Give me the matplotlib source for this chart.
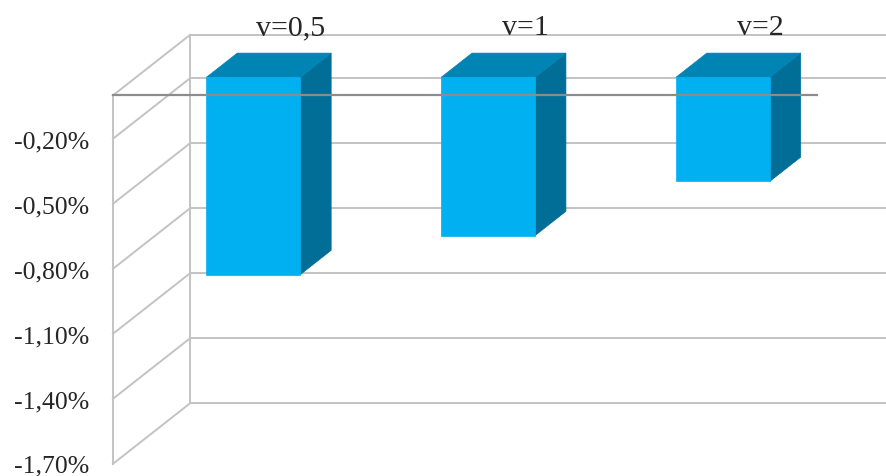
import matplotlib.pyplot as plt
from matplotlib.patches import Polygon

categories = ['v=0,5', 'v=1', 'v=2']
values = [-0.91, -0.73, -0.48]          # in %
tick_values = [-0.2, -0.5, -0.8, -1.1, -1.4, -1.7]
tick_labels = ['-0,20%', '-0,50%', '-0,80%', '-1,10%', '-1,40%', '-1,70%']
y_max, y_min = 0.0, -1.7

# fake 3D: depth d goes from 0 (back wall) to 1 (front plane)
DX, DY = -0.328, -0.2790
def proj(x, y, d):
    return x + DX * d, y + DY * d

fig = plt.figure(figsize=(8.86, 4.77), dpi=100)
ax = fig.add_axes([0, 0, 1, 1])
ax.set_xlim(-1.309, 2.465)
ax.set_ylim(-2.035, 0.166)
ax.axis('off')

grid_c = '#C3C3C3'
lw = 1.4
x0, x1 = -0.5, len(categories) - 0.5

# back wall gridlines + side wall diagonals
for v in [y_max] + tick_values:
    ax.plot([x0, x1 + 0.2], [v, v], color=grid_c, lw=lw, zorder=1)
    bx, by = proj(x0, v, 0)
    fx, fy = proj(x0, v, 1)
    ax.plot([bx, fx], [by, fy], color=grid_c, lw=lw, zorder=1)
ax.plot([x0, x0], [y_max, y_min], color=grid_c, lw=lw, zorder=1)
fx, fy0 = proj(x0, y_max, 1)
_, fy1 = proj(x0, y_min, 1)
ax.plot([fx, fx], [fy0, fy1], color=grid_c, lw=lw, zorder=1)

# bars
front_c, top_c, side_c = '#00B0F0', '#0084B4', '#006E96'
half_w, d_back, d_front = 0.2, 0.3, 0.7
for i, v in enumerate(values):
    l, r = i - half_w, i + half_w
    front = [proj(l, 0, d_front), proj(r, 0, d_front), proj(r, v, d_front), proj(l, v, d_front)]
    top = [proj(l, 0, d_front), proj(r, 0, d_front), proj(r, 0, d_back), proj(l, 0, d_back)]
    side = [proj(r, 0, d_front), proj(r, 0, d_back), proj(r, v, d_back), proj(r, v, d_front)]
    for pts, c in [(side, side_c), (top, top_c), (front, front_c)]:
        ax.add_patch(Polygon(pts, closed=True, facecolor=c, edgecolor=c, lw=0.5, zorder=3))
    lx, _ = proj(i, 0, 0.22)
    ax.text(lx, y_max + 0.005, categories[i], ha='center', va='baseline',
            fontsize=21.5, family='Liberation Serif', color='#262626', zorder=5)

# front category axis line (drawn over the bars)
ax0, ay0 = proj(x0, y_max, 1)
ax1, ay1 = proj(x1, y_max, 1)
ax.plot([ax0, ax1], [ay0, ay1], color='#8C8C8C', lw=1.6, zorder=4)

# value axis labels on the front plane
for v, t in zip(tick_values, tick_labels):
    tx, ty = proj(x0, v, 1)
    ax.text(tx - 0.1, max(ty - 0.012, -1.985), t, ha='right', va='center',
            fontsize=18.5, family='Liberation Serif', color='#262626')

fig.savefig('out.png', dpi=100)
